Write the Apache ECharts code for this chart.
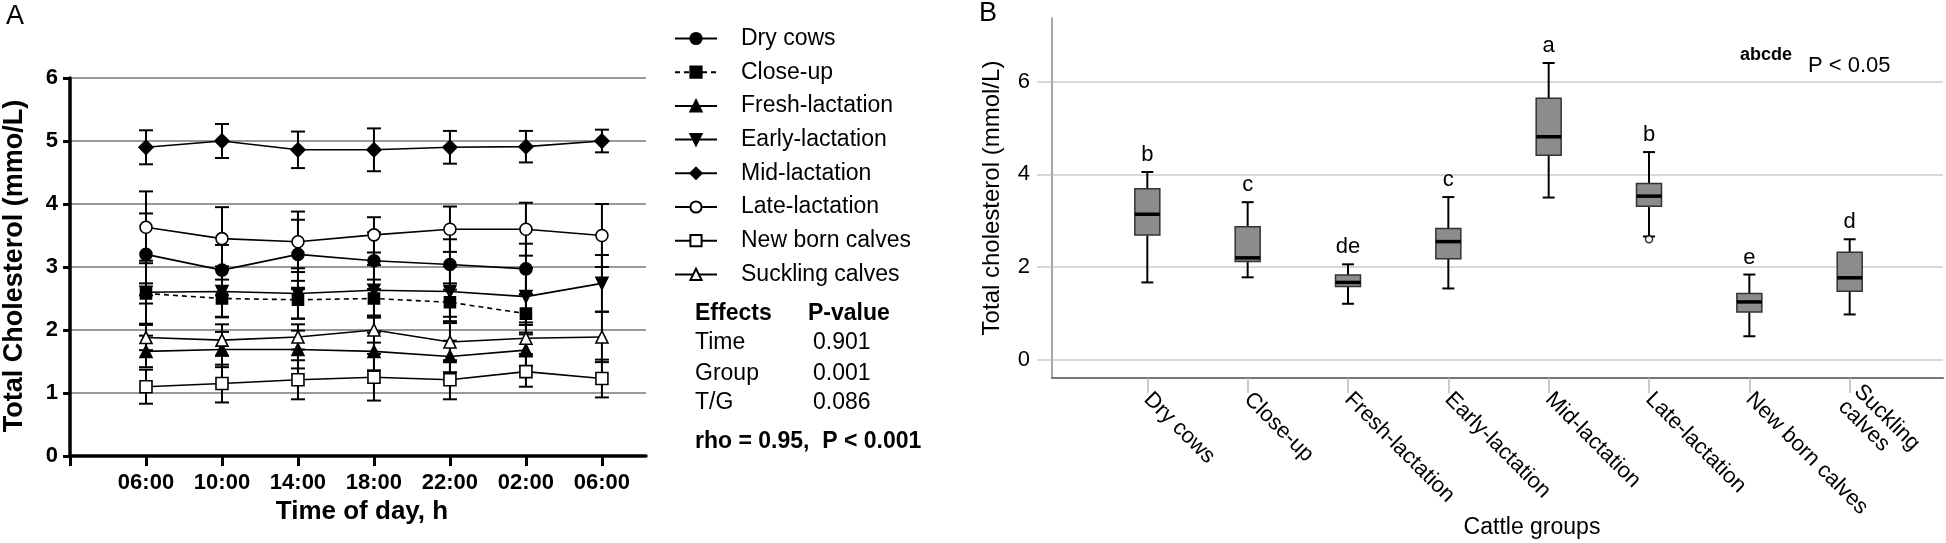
<!DOCTYPE html>
<html><head><meta charset="utf-8">
<script src="https://cdn.jsdelivr.net/npm/echarts@6/dist/echarts.min.js"></script>
<style>html,body{margin:0;padding:0;background:#fff}#c{width:1946px;height:543px}</style>
</head><body><div id="c"></div>
<script>
// ---------- Panel A data ----------
const times = ['06:00','10:00','14:00','18:00','22:00','02:00','06:00'];
const groupNamesA = ['Dry cows','Close-up','Fresh-lactation','Early-lactation','Mid-lactation','Late-lactation','New born calves','Suckling calves'];
const dryCowsMean   = [3.20, 2.95, 3.20, 3.10, 3.04, 2.97, null];
const dryCowsSE     = [0.65, 0.40, 0.55, 0.45, 0.40, 0.40, null];
const closeUpMean   = [2.58, 2.50, 2.48, 2.50, 2.44, 2.26, null];
const closeUpSE     = [0.16, 0.30, 0.30, 0.30, 0.30, 0.30, null];
const freshMean     = [1.66, 1.69, 1.69, 1.66, 1.58, 1.68, null];
const freshSE       = [0.25, 0.28, 0.30, 0.30, 0.25, 0.25, null];
const earlyMean     = [2.60, 2.61, 2.58, 2.63, 2.61, 2.53, 2.74];
const earlySE       = [0.50, 0.40, 0.40, 0.40, 0.40, 0.45, 0.45];
const midMean       = [4.90, 5.00, 4.86, 4.86, 4.90, 4.91, 5.00];
const midSE         = [0.27, 0.27, 0.29, 0.34, 0.26, 0.25, 0.18];
const lateMean      = [3.63, 3.45, 3.40, 3.51, 3.60, 3.60, 3.50];
const lateSE        = [0.57, 0.50, 0.48, 0.28, 0.36, 0.42, 0.50];
const newbornMean   = [1.10, 1.15, 1.21, 1.25, 1.21, 1.34, 1.23];
const newbornSE     = [0.27, 0.30, 0.31, 0.37, 0.31, 0.24, 0.30];
const sucklingMean  = [1.88, 1.84, 1.89, 2.00, 1.81, 1.87, 1.89];
const sucklingSE    = [0.20, 0.25, 0.20, 0.20, 0.30, 0.25, 0.40];
const yTicksA = [0,1,2,3,4,5,6];
const effectsRows = [['Time','0.901'],['Group','0.001'],['T/G','0.086']];

// ---------- Panel B data ----------
const cattleGroups = ['Dry cows','Close-up','Fresh-lactation','Early-lactation','Mid-lactation','Late-lactation','New born calves','Suckling\ncalves'];
const boxMin    = [1.67, 1.78, 1.21, 1.54, 3.50, 2.66, 0.51, 0.98];
const boxQ1     = [2.69, 2.12, 1.58, 2.18, 4.41, 3.31, 1.03, 1.48];
const boxMedian = [3.14, 2.20, 1.67, 2.55, 4.81, 3.53, 1.25, 1.77];
const boxQ3     = [3.69, 2.87, 1.83, 2.83, 5.64, 3.80, 1.43, 2.32];
const boxMax    = [4.05, 3.40, 2.06, 3.51, 6.40, 4.48, 1.84, 2.60];
const boxLetters = ['b','c','de','c','a','b','e','d'];
const outlierGroup = [5];
const outlierValue = [2.60];
const yTicksB = [0,2,4,6];

// ---------- styling ----------
const FF = '"Liberation Sans", Arial, Helvetica, sans-serif';
const meansA = [dryCowsMean, closeUpMean, freshMean, earlyMean, midMean, lateMean, newbornMean, sucklingMean];
const sesA = [dryCowsSE, closeUpSE, freshSE, earlySE, midSE, lateSE, newbornSE, sucklingSE];
const stylesA = [
  {symbol:'circle', size:12, fill:'#000', dash:'solid', rot:0},
  {symbol:'rect', size:11, fill:'#000', dash:[5,4], rot:0},
  {symbol:'triangle', size:12, fill:'#000', dash:'solid', rot:0},
  {symbol:'triangle', size:12, fill:'#000', dash:'solid', rot:180},
  {symbol:'diamond', size:14, fill:'#000', dash:'solid', rot:0},
  {symbol:'circle', size:12, fill:'#fff', dash:'solid', rot:0},
  {symbol:'rect', size:12, fill:'#fff', dash:'solid', rot:0},
  {symbol:'triangle', size:12, fill:'#fff', dash:'solid', rot:0}
];

const series = [];
groupNamesA.forEach((name, g) => {
  const pts = [], errs = [];
  meansA[g].forEach((v, i) => { if (v != null) { pts.push([i, v]); errs.push([i, v, sesA[g][i]]); } });
  series.push({
    type:'custom', name: name + ' SE', xAxisIndex:0, yAxisIndex:0, z:2, silent:true,
    data: errs, encode:{x:0, y:1},
    renderItem: (params, api) => {
      const x = api.value(0), m = api.value(1), s = api.value(2);
      const t = api.coord([x, m + s]), b = api.coord([x, m - s]);
      const hw = 7, st = {stroke:'#000', lineWidth:2};
      return {type:'group', children:[
        {type:'line', shape:{x1:t[0], y1:t[1], x2:b[0], y2:b[1]}, style:st},
        {type:'line', shape:{x1:t[0]-hw, y1:t[1], x2:t[0]+hw, y2:t[1]}, style:st},
        {type:'line', shape:{x1:b[0]-hw, y1:b[1], x2:b[0]+hw, y2:b[1]}, style:st}
      ]};
    }
  });
  const s = stylesA[g];
  series.push({
    type:'line', name, xAxisIndex:0, yAxisIndex:0, z:3, data: pts,
    symbol: s.symbol, symbolSize: s.size, symbolRotate: s.rot, showAllSymbol:true,
    lineStyle:{color:'#000', width:1.6, type:s.dash},
    itemStyle:{color:s.fill, borderColor:'#000', borderWidth:1.6, opacity:1},
    emphasis:{disabled:true}, animation:false
  });
});

// Box plot (panel B)
const boxData = cattleGroups.map((c, i) => [i, boxMin[i], boxQ1[i], boxMedian[i], boxQ3[i], boxMax[i]]);
series.push({
  type:'custom', name:'box', xAxisIndex:1, yAxisIndex:1, z:3, silent:true,
  data: boxData, encode:{x:0, y:[1,2,3,4,5]},
  renderItem: (params, api) => {
    const x = api.value(0);
    const pMin = api.coord([x, api.value(1)]);
    const pQ1 = api.coord([x, api.value(2)]);
    const pMed = api.coord([x, api.value(3)]);
    const pQ3 = api.coord([x, api.value(4)]);
    const pMax = api.coord([x, api.value(5)]);
    const cx = pMin[0], bw = 25, cw = 12;
    const wst = {stroke:'#000', lineWidth:2};
    return {type:'group', children:[
      {type:'line', shape:{x1:cx, y1:pMax[1], x2:cx, y2:pQ3[1]}, style:wst},
      {type:'line', shape:{x1:cx, y1:pQ1[1], x2:cx, y2:pMin[1]}, style:wst},
      {type:'line', shape:{x1:cx-cw/2, y1:pMax[1], x2:cx+cw/2, y2:pMax[1]}, style:wst},
      {type:'line', shape:{x1:cx-cw/2, y1:pMin[1], x2:cx+cw/2, y2:pMin[1]}, style:wst},
      {type:'rect', shape:{x:cx-bw/2, y:pQ3[1], width:bw, height:pQ1[1]-pQ3[1]}, style:{fill:'#8c8c8c', stroke:'#333', lineWidth:1.5}},
      {type:'line', shape:{x1:cx-bw/2, y1:pMed[1], x2:cx+bw/2, y2:pMed[1]}, style:{stroke:'#000', lineWidth:3.5}},
      {type:'text', x:cx, y:pMax[1]-6, style:{text:boxLetters[params.dataIndex], textAlign:'center', textVerticalAlign:'bottom', font:'22px ' + FF, fill:'#000'}}
    ]};
  }
});
series.push({
  type:'scatter', name:'outlier', xAxisIndex:1, yAxisIndex:1, z:4, silent:true,
  data: outlierGroup.map((g, k) => [g, outlierValue[k]]),
  symbol:'circle', symbolSize:7, itemStyle:{color:'#fff', borderColor:'#000', borderWidth:1.5}
});

const graphics = [
  {type:'text', left:6, top:3, style:{text:'A', font:'27px ' + FF, fill:'#000'}},
  {type:'text', left:979, top:0, style:{text:'B', font:'27px ' + FF, fill:'#000'}},
  {type:'text', x:15, y:266, rotation:Math.PI/2, style:{text:'Total Cholesterol (mmo/L)', font:'bold 27px ' + FF, fill:'#000', textAlign:'center', textVerticalAlign:'middle'}},
  {type:'text', x:362, y:512, style:{text:'Time of day, h', font:'bold 26px ' + FF, fill:'#000', textAlign:'center', textVerticalAlign:'middle'}},
  {type:'text', x:695, y:314, style:{text:'Effects', font:'bold 23px ' + FF, fill:'#000', textVerticalAlign:'middle'}},
  {type:'text', x:808, y:314, style:{text:'P-value', font:'bold 23px ' + FF, fill:'#000', textVerticalAlign:'middle'}},
  {type:'text', x:695, y:442, style:{text:'rho = 0.95,  P < 0.001', font:'bold 23px ' + FF, fill:'#000', textVerticalAlign:'middle'}},
  {type:'text', x:992, y:198, rotation:Math.PI/2, style:{text:'Total cholesterol (mmol/L)', font:'24px ' + FF, fill:'#000', textAlign:'center', textVerticalAlign:'middle'}},
  {type:'text', x:1532, y:528, style:{text:'Cattle groups', font:'23px ' + FF, fill:'#000', textAlign:'center', textVerticalAlign:'middle'}},
  {type:'text', x:1740, y:55, style:{text:'abcde', font:'bold 18px ' + FF, fill:'#000', textVerticalAlign:'middle'}},
  {type:'text', x:1808, y:66, style:{text:'P < 0.05', font:'22px ' + FF, fill:'#000', textVerticalAlign:'middle'}}
];
const rowY = [343, 374, 403];
effectsRows.forEach((r, k) => {
  graphics.push({type:'text', x:695, y:rowY[k], style:{text:r[0], font:'23px ' + FF, fill:'#000', textVerticalAlign:'middle'}});
  graphics.push({type:'text', x:813, y:rowY[k], style:{text:r[1], font:'23px ' + FF, fill:'#000', textVerticalAlign:'middle'}});
});

const option = {
  animation:false,
  backgroundColor:'#fff',
  textStyle:{fontFamily:FF},
  grid:[
    {left:70, top:78, width:576, height:378},
    {left:1052, top:18, width:891, height:360}
  ],
  legend:{
    orient:'vertical', left:674, top:27, padding:0, itemWidth:42, itemHeight:14, itemGap:10.7,
    selectedMode:false, data: groupNamesA,
    formatter: n => '{t|' + n + '}',
    textStyle:{color:'#000', fontSize:23, fontFamily:FF, rich:{t:{fontSize:23, fontFamily:FF, color:'#000', padding:[0,0,0,19], lineHeight:23}}}
  },
  xAxis:[
    {type:'value', gridIndex:0, min:-1, max:6.58,
     axisLine:{onZero:false, lineStyle:{color:'#000', width:3.5}},
     axisTick:{show:true, customValues:[-1,0,1,2,3,4,5,6], length:10, lineStyle:{color:'#000', width:3}},
     axisLabel:{customValues:[0,1,2,3,4,5,6], formatter: v => times[v], fontSize:22, fontWeight:'bold', color:'#000', margin:16, fontFamily:FF},
     splitLine:{show:false}},
    {type:'value', gridIndex:1, min:-0.95, max:7.93,
     axisLine:{onZero:false, lineStyle:{color:'#777', width:2}},
     axisTick:{show:true, customValues:[0,1,2,3,4,5,6,7], length:15, lineStyle:{color:'#bbb', width:1.5}},
     axisLabel:{customValues:[0,1,2,3,4,5,6,7], formatter: v => cattleGroups[v], rotate:-45, fontSize:22, color:'#000', margin:18, fontFamily:FF, lineHeight:22},
     splitLine:{show:false}}
  ],
  yAxis:[
    {type:'value', gridIndex:0, min:0, max:6, interval:1,
     axisLine:{show:true, onZero:false, lineStyle:{color:'#000', width:3.5}},
     axisTick:{show:true, length:7, lineStyle:{color:'#000', width:3}},
     axisLabel:{fontSize:22, fontWeight:'bold', color:'#000', margin:12, fontFamily:FF},
     splitLine:{show:true, lineStyle:{color:'#999', width:2}}},
    {type:'value', gridIndex:1, min:-0.39, max:7.37,
     axisLine:{show:true, onZero:false, lineStyle:{color:'#888', width:1.5}},
     axisTick:{show:true, customValues:yTicksB, length:15, lineStyle:{color:'#ccc', width:1.5}},
     axisLabel:{customValues:yTicksB, fontSize:22, color:'#000', margin:22, fontFamily:FF},
     splitLine:{show:true, lineStyle:{color:'#ccc', width:1.5}}}
  ],
  graphic: graphics,
  series
};
const chart = echarts.init(document.getElementById('c'), null, {renderer:'canvas'});
chart.setOption(option);
</script>
</body></html>
